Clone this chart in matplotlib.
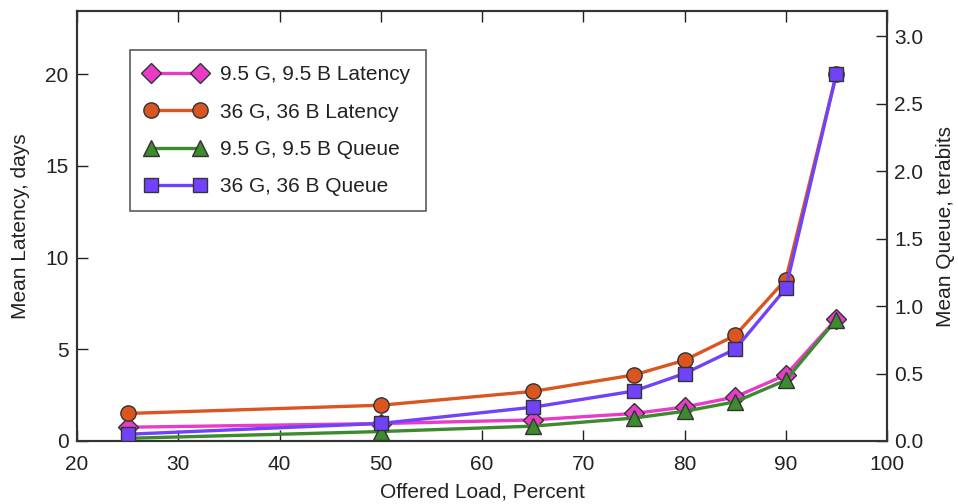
import matplotlib
matplotlib.use("Agg")
import matplotlib.pyplot as plt

plt.rcParams['font.family'] = ['Liberation Sans', 'DejaVu Sans']

# offered load, percent
load = [25, 50, 65, 75, 80, 85, 90, 95]

# mean latency, days (left axis)
lat_small = [0.75, 0.95, 1.15, 1.5, 1.85, 2.4, 3.6, 6.65]
lat_big = [1.5, 1.95, 2.7, 3.6, 4.4, 5.75, 8.8, 20.0]

# mean queue, terabits (right axis)
q_small = [0.02, 0.07, 0.11, 0.17, 0.22, 0.29, 0.45, 0.9]
q_big = [0.05, 0.13, 0.25, 0.37, 0.50, 0.68, 1.13, 2.72]

labels = ["9.5 G, 9.5 B Latency", "36 G, 36 B Latency",
          "9.5 G, 9.5 B Queue", "36 G, 36 B Queue"]

txt = '#222222'
edge = '#333333'
fs = 15

fig = plt.figure(figsize=(9.58, 5.04), dpi=100)
ax = fig.add_axes([0.0804, 0.125, 0.8455, 0.853])
ax2 = ax.twinx()

l1, = ax.plot(load, lat_small, color='#E83CC8', lw=2.4, marker='D', ms=10,
              mfc='#E83CC8', mec=edge, mew=1, zorder=3)
l2, = ax.plot(load, lat_big, color='#DA5520', lw=2.4, marker='o', ms=11,
              mfc='#DA5520', mec=edge, mew=1, zorder=3)
l3, = ax2.plot(load, q_small, color='#3D8A2F', lw=2.4, marker='^', ms=11,
               mfc='#3D8A2F', mec=edge, mew=1, zorder=3)
l4, = ax2.plot(load, q_big, color='#7042FA', lw=2.4, marker='s', ms=10,
               mfc='#7042FA', mec=edge, mew=1, zorder=3)

ax.set_xlim(20, 100)
ax.set_ylim(0, 23.43)
ax2.set_ylim(0, 3.185)
ax.set_xticks(range(20, 101, 10))
ax.set_yticks([0, 5, 10, 15, 20])
ax2.set_yticks([0, 0.5, 1.0, 1.5, 2.0, 2.5, 3.0])
ax2.set_yticklabels(['0.0', '0.5', '1.0', '1.5', '2.0', '2.5', '3.0'])

ax.tick_params(axis='x', direction='in', length=8, width=1, top=True,
               labelsize=fs, colors=txt, pad=10)
ax.tick_params(axis='y', direction='in', length=8, width=1,
               labelsize=fs, colors=txt, pad=6)
ax2.tick_params(axis='y', direction='in', length=8, width=1,
                labelsize=fs, colors=txt, pad=5)

for a in (ax, ax2):
    for s in a.spines.values():
        s.set_color('#333333')
        s.set_linewidth(1.5)

ax.set_xlabel('Offered Load, Percent', fontsize=fs, color=txt, labelpad=6)
ax.set_ylabel('Mean Latency, days', fontsize=fs, color=txt, labelpad=11)
ax2.set_ylabel('Mean Queue, terabits', fontsize=fs, color=txt, labelpad=9)

leg = ax2.legend([l1, l2, l3, l4], labels, loc='upper left',
                 bbox_to_anchor=(0.0654, 0.909), numpoints=2, fontsize=fs,
                 frameon=True, fancybox=False, borderpad=0.72,
                 labelspacing=0.88, handlelength=2.95, handletextpad=0.67,
                 borderaxespad=0)
leg.get_frame().set_edgecolor('#333333')
leg.get_frame().set_linewidth(1.2)
for t in leg.get_texts():
    t.set_color(txt)

fig.savefig('out.png', dpi=100)
